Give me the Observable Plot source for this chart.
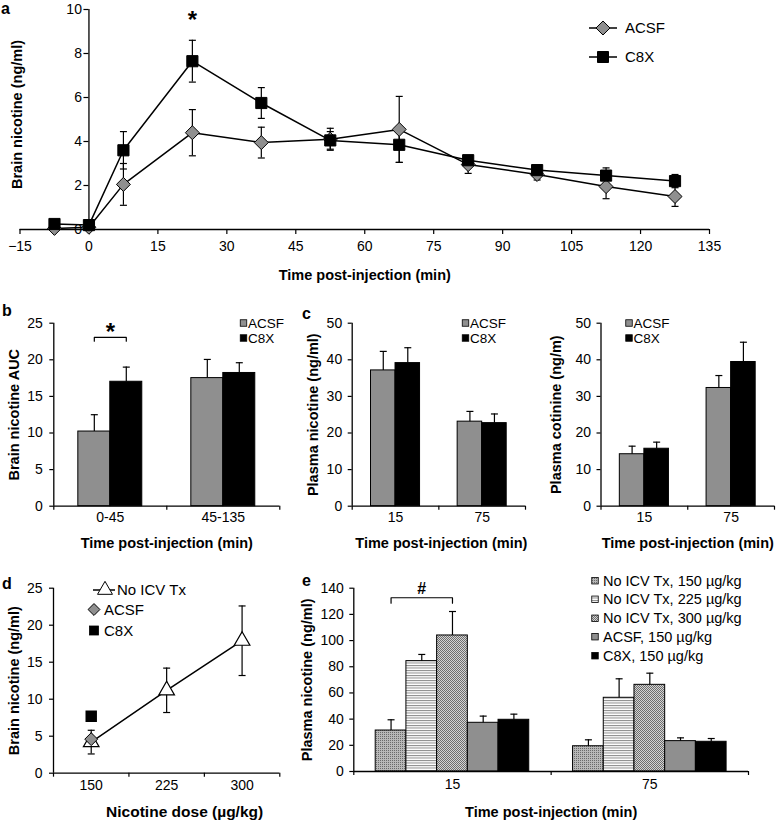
<!DOCTYPE html>
<html><head><meta charset="utf-8">
<script src="https://cdn.jsdelivr.net/npm/d3@7"></script>
<script src="https://cdn.jsdelivr.net/npm/@observablehq/plot@0.6"></script>
<style>
body{margin:0;background:#fff;}
#chart{position:relative;width:776px;height:822px;background:#fff;overflow:hidden;}
</style></head><body><div id="chart"></div>
<script>
const FONT = '"Liberation Sans", Arial, Helvetica, sans-serif';
const GRAY = "#8f8f8f";

// ---------- Panel a : brain nicotine time course ----------
const timeA   = [-7.5, 0, 7.5, 22.5, 37.5, 52.5, 67.5, 82.5, 97.5, 112.5, 127.5];
const acsfA   = [0.05, 0.1, 2.05, 4.4, 3.95, 4.1, 4.55, 2.95, 2.5, 1.95, 1.5];
const acsfAErr= [0, 0, 0.95, 1.05, 0.7, 0.5, 1.5, 0.4, 0.25, 0.55, 0.45];
const c8xA    = [0.25, 0.2, 3.6, 7.65, 5.75, 4.05, 3.85, 3.15, 2.7, 2.45, 2.2];
const c8xAErr = [0, 0, 0.85, 0.95, 0.7, 0.4, 0.8, 0.2, 0.2, 0.35, 0.3];
const xTicksA = [-15, 0, 15, 30, 45, 60, 75, 90, 105, 120, 135];
const yTicksA = [0, 2, 4, 6, 8, 10];
const sigA    = [{t: 22.5, y: 9.5, label: "*"}];

// ---------- Panel b : brain nicotine AUC ----------
const catsB    = ["0-45", "45-135"];
const acsfB    = [10.2, 17.5];
const acsfBErr = [2.3, 2.55];
const c8xB     = [17.0, 18.2];
const c8xBErr  = [2.0, 1.4];
const yTicksB  = [0, 5, 10, 15, 20, 25];

// ---------- Panel c : plasma nicotine / cotinine ----------
const catsC        = ["15", "75"];
const acsfNic      = [37.1, 23.1];
const acsfNicErr   = [5.2, 2.8];
const c8xNic       = [39.1, 22.7];
const c8xNicErr    = [4.2, 2.5];
const acsfCot      = [14.2, 32.3];
const acsfCotErr   = [2.2, 3.4];
const c8xCot       = [15.7, 39.4];
const c8xCotErr    = [1.8, 5.4];
const yTicksC      = [0, 10, 20, 30, 40, 50];

// ---------- Panel d : dose response ----------
const dosesD     = ["150", "225", "300"];
const noIcvD     = [4.2, 11.2, 17.9];
const noIcvDErr  = [1.6, 3.0, 4.7];
const acsfD      = [4.6];
const acsfDErr   = [0.5];
const c8xD       = [7.7];
const c8xDErr    = [0.6];
const yTicksD    = [0, 5, 10, 15, 20, 25];

// ---------- Panel e : plasma nicotine by group ----------
const catsE   = ["15", "75"];
const seriesE = ["No ICV Tx, 150 µg/kg", "No ICV Tx, 225 µg/kg", "No ICV Tx, 300 µg/kg", "ACSF, 150 µg/kg", "C8X, 150 µg/kg"];
const e15     = [31.3, 84.3, 103.9, 37.2, 39.5];
const e15Err  = [8.2, 5.1, 18.3, 5.1, 4.3];
const e75     = [19.3, 56.3, 66.2, 23.2, 22.7];
const e75Err  = [4.9, 14.5, 8.9, 2.5, 2.5];
const fillsE  = ["url(#pat150)", "url(#pat225)", "url(#pat300)", GRAY, "#000"];
const yTicksE = [0, 20, 40, 60, 80, 100, 120, 140];

const chart = document.getElementById("chart");

function panelPlot({left, top, width, height, frame, x, y, marks}) {
  const [fx0, fx1, fy0, fy1] = frame;
  const svg = Plot.plot({
    width, height,
    marginLeft: fx0 - left, marginRight: left + width - fx1,
    marginTop: fy0 - top, marginBottom: top + height - fy1,
    x, y, color: {type: "identity"},
    style: {background: "none", overflow: "visible", fontFamily: FONT, fontSize: "14px", color: "#000"},
    marks
  });
  svg.style.position = "absolute";
  svg.style.left = left + "px";
  svg.style.top = top + "px";
  chart.appendChild(svg);
  return svg;
}

const capSym = {draw(ctx, size) { const r = Math.sqrt(size / Math.PI); ctx.moveTo(-r, 0); ctx.lineTo(r, 0); }};

function errMarks(rows, {x, y, e, both = false, cap = 3.5, sw = 1.2}) {
  const data = rows.filter(d => e(d) > 0);
  const m = [
    Plot.ruleX(data, {x, y1: d => both ? y(d) - e(d) : y(d), y2: d => y(d) + e(d), stroke: "#000", strokeWidth: sw}),
    Plot.dot(data, {x, y: d => y(d) + e(d), symbol: capSym, r: cap, fill: "none", stroke: "#000", strokeWidth: sw})
  ];
  if (both) m.push(Plot.dot(data, {x, y: d => y(d) - e(d), symbol: capSym, r: cap, fill: "none", stroke: "#000", strokeWidth: sw}));
  return m;
}

function barRows(cats, series, bw) {
  const n = series.length;
  return series.flatMap((s, k) => cats.map((c, i) => {
    const x1 = i + 0.5 - n * bw / 2 + k * bw;
    return {cat: c, i, k, series: s.name, x1, x2: x1 + bw, xc: x1 + bw / 2, value: s.values[i], err: s.errs[i], fill: s.fill};
  }));
}

function yTitle(t, dx, dy) {
  return Plot.text([t], {frameAnchor: "left", dx, dy: dy || 0, rotate: -90, textAnchor: "middle", lineAnchor: "middle", fontWeight: "bold", fontSize: 14.5});
}
function xTitle(t, dy, dx, size) {
  return Plot.text([t], {frameAnchor: "bottom", dy, dx: dx || 0, textAnchor: "middle", lineAnchor: "middle", fontWeight: "bold", fontSize: size || 14.5});
}

function axesMarks(cats, yTicks, o) {
  return [
    Plot.ruleY([0], {stroke: "#000", strokeWidth: 1.3}),
    Plot.ruleX([0], {stroke: "#000", strokeWidth: 1.3}),
    Plot.axisX({ticks: d3.range(cats.length + 1), tickSize: 4, tickFormat: () => "", label: null, strokeWidth: 1.2}),
    Plot.axisX({ticks: cats.map((c, i) => i + 0.5), tickSize: 0, tickPadding: o.xPad, tickFormat: d => cats[Math.floor(d)], fontSize: 14, label: null}),
    Plot.axisY({ticks: yTicks, tickSize: 4, tickPadding: o.yPad, fontSize: 14, label: null, strokeWidth: 1.2}),
    yTitle(o.ytitle, o.ytDx),
    xTitle(o.xtitle, o.xtDy, o.xtDx, o.xtSize)
  ];
}

function barPanel(cfg) {
  const rows = barRows(cfg.cats, cfg.series, cfg.bw);
  const marks = [
    Plot.rectY(rows, {x1: "x1", x2: "x2", y1: 0, y2: "value", fill: "fill", stroke: "#000", strokeWidth: 1}),
    ...errMarks(rows, {x: "xc", y: d => d.value, e: d => d.err}),
    ...axesMarks(cfg.cats, cfg.yTicks, cfg)
  ];
  if (cfg.sig) {
    const a = rows.find(d => d.i === cfg.sig.cat && d.k === cfg.sig.from);
    const b = rows.find(d => d.i === cfg.sig.cat && d.k === cfg.sig.to);
    const path = [
      {x: a.xc, y: cfg.sig.y - cfg.sig.leg}, {x: a.xc, y: cfg.sig.y},
      {x: b.xc, y: cfg.sig.y}, {x: b.xc, y: cfg.sig.y - cfg.sig.leg}
    ];
    marks.push(Plot.line(path, {x: "x", y: "y", stroke: "#000", strokeWidth: 1.2}));
    marks.push(Plot.text([cfg.sig.label], {x: (a.xc + b.xc) / 2, y: cfg.sig.ty, fontWeight: "bold", fontSize: cfg.sig.size}));
  }
  panelPlot({
    left: cfg.left, top: cfg.top, width: cfg.width, height: cfg.height, frame: cfg.frame,
    x: {domain: [0, cfg.cats.length]}, y: {domain: [0, cfg.yTicks[cfg.yTicks.length - 1]]},
    marks
  });
}

// ---------- draw panel a ----------
{
  const rows = timeA.map((t, i) => ({t, acsf: acsfA[i], acsfE: acsfAErr[i], c8x: c8xA[i], c8xE: c8xAErr[i]}));
  const frame = [19.5, 709, 9, 229];
  const xd = [xTicksA[0], xTicksA[xTicksA.length - 1]];
  const yAxisDx = (0 - xd[0]) / (xd[1] - xd[0]) * (frame[1] - frame[0]);
  panelPlot({
    left: 0, top: 0, width: 776, height: 290, frame,
    x: {domain: xd}, y: {domain: [0, 10]},
    marks: [
      Plot.ruleY([0], {stroke: "#000", strokeWidth: 1.3}),
      Plot.ruleX([0], {stroke: "#000", strokeWidth: 1.3}),
      Plot.axisX({ticks: xTicksA, tickSize: 5, tickPadding: 7, fontSize: 14, label: null, strokeWidth: 1.2}),
      Plot.axisY({ticks: yTicksA, tickSize: 5, tickPadding: 2, dx: yAxisDx, fontSize: 14, label: null, strokeWidth: 1.2}),
      ...errMarks(rows, {x: "t", y: d => d.acsf, e: d => d.acsfE, both: true}),
      ...errMarks(rows, {x: "t", y: d => d.c8x, e: d => d.c8xE, both: true}),
      Plot.line(rows, {x: "t", y: "acsf", stroke: "#000", strokeWidth: 1.5}),
      Plot.line(rows, {x: "t", y: "c8x", stroke: "#000", strokeWidth: 1.5}),
      Plot.dot(rows, {x: "t", y: "acsf", symbol: "diamond2", r: 6.3, fill: GRAY, stroke: "#000", strokeWidth: 1}),
      Plot.dot(rows, {x: "t", y: "c8x", symbol: "square", r: 6.3, fill: "#000", stroke: "#000", strokeWidth: 1}),
      Plot.text(sigA, {x: "t", y: "y", text: "label", fontSize: 24, fontWeight: "bold"}),
      yTitle("Brain nicotine (ng/ml)", -2.5, -5),
      xTitle("Time post-injection (min)", 45.5)
    ]
  });
}

// ---------- draw panel b ----------
barPanel({
  left: 0, top: 300, width: 290, height: 260, frame: [53.3, 279.3, 322.7, 505.7],
  cats: catsB, bw: 0.283, yTicks: yTicksB,
  series: [{name: "ACSF", values: acsfB, errs: acsfBErr, fill: GRAY}, {name: "C8X", values: c8xB, errs: c8xBErr, fill: "#000"}],
  xPad: 6, yPad: 7, ytitle: "Brain nicotine AUC", ytDx: -39, xtitle: "Time post-injection (min)", xtDy: 37.3,
  sig: {cat: 0, from: 0, to: 1, y: 23.05, leg: 0.5, label: "*", ty: 23.7, size: 24}
});

// ---------- draw panel c (left & right) ----------
barPanel({
  left: 260, top: 300, width: 270, height: 260, frame: [351.7, 525, 322.7, 505.7],
  cats: catsC, bw: 0.283, yTicks: yTicksC,
  series: [{name: "ACSF", values: acsfNic, errs: acsfNicErr, fill: GRAY}, {name: "C8X", values: c8xNic, errs: c8xNicErr, fill: "#000"}],
  xPad: 6, yPad: 6, ytitle: "Plasma nicotine (ng/ml)", ytDx: -38.7, xtitle: "Time post-injection (min)", xtDy: 37.6, xtDx: 2.5
});
barPanel({
  left: 520, top: 300, width: 256, height: 260, frame: [600.5, 774, 322.7, 505.7],
  cats: catsC, bw: 0.283, yTicks: yTicksC,
  series: [{name: "ACSF", values: acsfCot, errs: acsfCotErr, fill: GRAY}, {name: "C8X", values: c8xCot, errs: c8xCotErr, fill: "#000"}],
  xPad: 6, yPad: 6, ytitle: "Plasma cotinine (ng/m)", ytDx: -44.5, xtitle: "Time post-injection (min)", xtDy: 37.6
});

// ---------- draw panel d ----------
{
  const rows = noIcvD.map((v, i) => ({x: i + 0.5, v, e: noIcvDErr[i]}));
  const rowsA = acsfD.map((v, i) => ({x: i + 0.5, v, e: acsfDErr[i]}));
  const rowsC = c8xD.map((v, i) => ({x: i + 0.5, v, e: c8xDErr[i]}));
  panelPlot({
    left: 0, top: 560, width: 290, height: 262, frame: [53, 279.3, 587.7, 772.7],
    x: {domain: [0, dosesD.length]}, y: {domain: [0, 25]},
    marks: [
      ...axesMarks(dosesD, yTicksD, {xPad: 7, yPad: 7, ytitle: "Brain nicotine (ng/ml)", ytDx: -39,
        xtitle: "Nicotine dose (µg/kg)", xtDy: 39, xtDx: 18, xtSize: 15.5}),
      ...errMarks(rows, {x: "x", y: d => d.v, e: d => d.e, both: true}),
      ...errMarks(rowsC, {x: "x", y: d => d.v, e: d => d.e, both: true}),
      Plot.line(rows, {x: "x", y: "v", stroke: "#000", strokeWidth: 1.5}),
      Plot.dot(rows, {x: "x", y: "v", symbol: "triangle", r: 5.8, fill: "#fff", stroke: "#000", strokeWidth: 1.2}),
      Plot.dot(rowsA, {x: "x", y: "v", symbol: "diamond2", r: 5.8, fill: GRAY, stroke: "#000", strokeWidth: 1}),
      Plot.dot(rowsC, {x: "x", y: "v", symbol: "square", r: 5.6, fill: "#000", stroke: "#000"})
    ]
  });
}

// ---------- draw panel e ----------
barPanel({
  left: 290, top: 560, width: 486, height: 262, frame: [353.3, 748, 587.7, 771],
  cats: catsE, bw: 0.1556, yTicks: yTicksE,
  series: seriesE.map((name, k) => ({name, values: [e15[k], e75[k]], errs: [e15Err[k], e75Err[k]], fill: fillsE[k]})),
  xPad: 8, yPad: 6, ytitle: "Plasma nicotine (ng/ml)", ytDx: -46, xtitle: "Time post-injection (min)", xtDy: 40.7,
  sig: {cat: 0, from: 0, to: 2, y: 132.7, leg: 4.1, label: "#", ty: 139.8, size: 16}
});

// ---------- overlay: patterns, legends, panel letters ----------
const ov = d3.select(chart).append("svg")
  .attr("width", 776).attr("height", 822)
  .style("position", "absolute").style("left", "0px").style("top", "0px")
  .style("pointer-events", "none").style("font-family", FONT);

const defs = ov.append("defs");
{
  let p = defs.append("pattern").attr("id", "pat150").attr("patternUnits", "userSpaceOnUse").attr("width", 2).attr("height", 2);
  p.append("rect").attr("width", 2).attr("height", 2).attr("fill", "#b8b8b8");
  p.append("rect").attr("width", 1).attr("height", 1).attr("fill", "#6a6a6a");
  p = defs.append("pattern").attr("id", "pat225").attr("patternUnits", "userSpaceOnUse").attr("width", 4).attr("height", 2.5);
  p.append("rect").attr("width", 4).attr("height", 2.5).attr("fill", "#fff");
  p.append("rect").attr("width", 4).attr("height", 1).attr("fill", "#8a8a8a");
  p = defs.append("pattern").attr("id", "pat300").attr("patternUnits", "userSpaceOnUse").attr("width", 2).attr("height", 2);
  p.append("rect").attr("width", 2).attr("height", 2).attr("fill", "#d4d4d4");
  p.append("rect").attr("width", 1).attr("height", 1).attr("fill", "#6e6e6e");
  p.append("rect").attr("x", 1).attr("y", 1).attr("width", 1).attr("height", 1).attr("fill", "#6e6e6e");
}

function txt(x, y, s, size, weight) {
  ov.append("text").attr("x", x).attr("y", y).attr("dy", "0.35em").attr("font-size", size)
    .attr("font-weight", weight || "normal").attr("fill", "#000").text(s);
}
function sym(type, x, y, size, fill) {
  ov.append("path").attr("d", d3.symbol(type, size)()).attr("transform", `translate(${x},${y})`)
    .attr("fill", fill).attr("stroke", "#000").attr("stroke-width", 1);
}
function sq(x, y, s, fill) {
  ov.append("rect").attr("x", x - s / 2).attr("y", y - s / 2).attr("width", s).attr("height", s)
    .attr("fill", fill).attr("stroke", "#000").attr("stroke-width", 0.8);
}
function seg(x1, x2, y) {
  ov.append("line").attr("x1", x1).attr("x2", x2).attr("y1", y).attr("y2", y).attr("stroke", "#000").attr("stroke-width", 1.5);
}

// legend a
const legA = ["ACSF", "C8X"];
[28, 57].forEach((y, i) => {
  seg(589, 617, y);
  if (i === 0) sym(d3.symbolDiamond2, 603, y, 125, GRAY); else sym(d3.symbolSquare, 603, y, 121, "#000");
  txt(625, y, legA[i], 15);
});
// legends b, c
const legBC = [{name: "ACSF", fill: GRAY}, {name: "C8X", fill: "#000"}];
[243.5, 465.5, 629].forEach(x0 => {
  legBC.forEach((d, i) => {
    const y = 323 + i * 15;
    sq(x0, y, 6.5, d.fill);
    txt(x0 + 4.5, y, d.name, 13.5);
  });
});
// legend d
const legD = ["No ICV Tx", "ACSF", "C8X"];
seg(93, 115, 590); sym(d3.symbolTriangle, 105, 590, 97, "#fff"); txt(117, 590, legD[0], 15);
sym(d3.symbolDiamond2, 94, 609.5, 90, GRAY); txt(104, 609.5, legD[1], 15);
sq(94, 630.5, 9, "#000"); txt(104, 630.5, legD[2], 15);
// legend e
const legEy = [580.7, 599.3, 618.3, 636.7, 655.7];
seriesE.forEach((name, k) => {
  sq(595, legEy[k], 6.5, fillsE[k]);
  txt(603, legEy[k], name, 14.5);
});
// panel letters
const letters = [{t: "a", x: 1, y: 8}, {t: "b", x: 2, y: 310}, {t: "c", x: 302, y: 313}, {t: "d", x: 2, y: 583}, {t: "e", x: 302, y: 580}];
letters.forEach(d => txt(d.x, d.y, d.t, 16, "bold"));
</script></body></html>
